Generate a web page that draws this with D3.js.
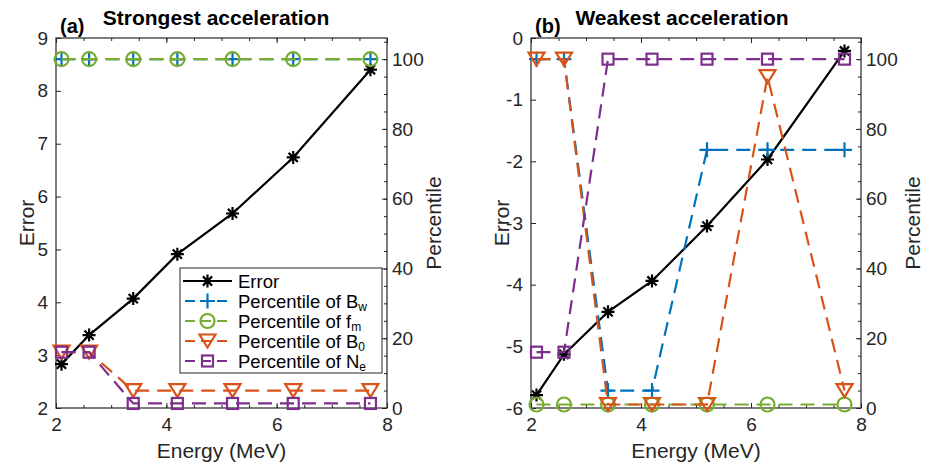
<!DOCTYPE html>
<html><head><meta charset="utf-8">
<script src="https://cdn.jsdelivr.net/npm/d3@7"></script>
<style>body{margin:0;background:#fff} svg{display:block;font-family:"Liberation Sans",Arial,sans-serif}</style>
</head><body><svg id="c" width="929" height="468"></svg>
<script>
// ---- data ----
const energy = [2.1, 2.6, 3.4, 4.2, 5.2, 6.3, 7.7];
const errorStrong = [2.83, 3.38, 4.07, 4.91, 5.68, 6.74, 8.40];
const bwStrong = [100, 100, 100, 100, 100, 100, 100];
const fmStrong = [100, 100, 100, 100, 100, 100, 100];
const b0Strong = [16, 16, 5, 5, 5, 5, 5];
const neStrong = [16, 16, 1.3, 1.3, 1.3, 1.3, 1.3];
const errorWeak = [-5.79, -5.13, -4.44, -3.94, -3.05, -1.97, -0.21];
const bwWeak = [100, 100, 5, 5, 74, 74, 74];
const fmWeak = [1, 1, 1, 1, 1, 1, 1];
const b0Weak = [100, 100, 1, 1, 1, 95, 5];
const neWeak = [16, 16, 100, 100, 100, 100, 100];
const xTicks = [2, 4, 6, 8];
const yTicksStrong = [2, 3, 4, 5, 6, 7, 8, 9];
const yTicksWeak = [-6, -5, -4, -3, -2, -1, 0];
const pctTicks = [0, 20, 40, 60, 80, 100];
const titles = ["Strongest acceleration", "Weakest acceleration"];
const panelTags = ["(a)", "(b)"];
const legendMain = ["Error", "Percentile of B", "Percentile of f", "Percentile of B", "Percentile of N"];
const legendSub = ["", "w", "m", "0", "e"];

// ---- styles ----
const C = {err: "#000000", bw: "#0072BD", fm: "#77AC30", b0: "#D95319", ne: "#7E2F8E"};
const AX = "#262626";
const DASH = "14,8";
const svg = d3.select("#c");

function marker(g, type, cx, cy, color) {
  const s = g.append("g").attr("transform", `translate(${cx},${cy})`)
    .attr("fill", "none").attr("stroke", color).attr("stroke-width", 2.2);
  if (type === "star") s.append("path").attr("d", "M-6.5,0H6.5M0,-6.5V6.5M-4.6,-4.6L4.6,4.6M-4.6,4.6L4.6,-4.6");
  else if (type === "plus") s.append("path").attr("d", "M-7.5,0H7.5M0,-7.5V7.5");
  else if (type === "circle") s.append("circle").attr("r", 7);
  else if (type === "tri") s.append("path").attr("d", "M-8,-6.5L8,-6.5L0,6.5Z");
  else if (type === "square") s.append("rect").attr("x", -5.5).attr("y", -5.5).attr("width", 11).attr("height", 11);
}

function panel(opt) {
  const {x0, x1, yDom, yTicks, err, bw, fm, b0, ne, title, tag, titleX, yLabX, pLabX, legend} = opt;
  const y0 = 38, y1 = 408;
  const x = d3.scaleLinear([2, 8], [x0, x1]);
  const yL = d3.scaleLinear(yDom, [y1, y0]);
  const yR = d3.scaleLinear([0, 106.06], [y1, y0]);
  const g = svg.append("g");
  const fmt = d => String(d);
  const styleAxis = a => {
    a.select(".domain").remove();
    a.selectAll("line").attr("stroke", AX);
    a.selectAll("text").attr("fill", AX).attr("font-size", 19).attr("font-family", "Liberation Sans, Arial, sans-serif");
  };
  const minorX = d3.range(2, 8.01, 0.5);
  const minorR = d3.range(0, 106, 5);
  // bottom
  g.append("g").attr("transform", `translate(0,${y1})`)
    .call(d3.axisBottom(x).tickValues(minorX).tickFormat("").tickSizeInner(-3).tickSizeOuter(0)).call(styleAxis);
  g.append("g").attr("transform", `translate(0,${y1})`)
    .call(d3.axisBottom(x).tickValues(xTicks).tickFormat(fmt).tickSizeInner(-5).tickSizeOuter(0).tickPadding(10)).call(styleAxis);
  // top
  g.append("g").attr("transform", `translate(0,${y0})`)
    .call(d3.axisTop(x).tickValues(minorX).tickFormat("").tickSizeInner(-3).tickSizeOuter(0)).call(styleAxis);
  g.append("g").attr("transform", `translate(0,${y0})`)
    .call(d3.axisTop(x).tickValues(xTicks).tickFormat("").tickSizeInner(-5).tickSizeOuter(0)).call(styleAxis);
  // left
  g.append("g").attr("transform", `translate(${x0},0)`)
    .call(d3.axisLeft(yL).tickValues(yTicks).tickFormat(fmt).tickSizeInner(-5).tickSizeOuter(0).tickPadding(8)).call(styleAxis);
  // right
  g.append("g").attr("transform", `translate(${x1},0)`)
    .call(d3.axisRight(yR).tickValues(minorR).tickFormat("").tickSizeInner(-3).tickSizeOuter(0)).call(styleAxis);
  g.append("g").attr("transform", `translate(${x1},0)`)
    .call(d3.axisRight(yR).tickValues(pctTicks).tickFormat(fmt).tickSizeInner(-5).tickSizeOuter(0).tickPadding(5)).call(styleAxis);
  // box
  g.append("rect").attr("x", x0).attr("y", y0).attr("width", x1 - x0).attr("height", y1 - y0)
    .attr("fill", "none").attr("stroke", AX).attr("stroke-width", 1.2);

  // series
  const lineL = d3.line().x((d, i) => x(energy[i])).y(d => yL(d));
  const lineR = d3.line().x((d, i) => x(energy[i])).y(d => yR(d));
  g.append("path").attr("d", lineL(err)).attr("fill", "none").attr("stroke", C.err).attr("stroke-width", 2.2);
  err.forEach((v, i) => marker(g, "star", x(energy[i]), yL(v), C.err));
  const rs = [[bw, C.bw, "plus"], [fm, C.fm, "circle"], [b0, C.b0, "tri"], [ne, C.ne, "square"]];
  rs.forEach(([arr, col, m]) => {
    g.append("path").attr("d", lineR(arr)).attr("fill", "none").attr("stroke", col)
      .attr("stroke-width", 2.2).attr("stroke-dasharray", DASH);
    arr.forEach((v, i) => marker(g, m, x(energy[i]), yR(v), col));
  });

  // texts
  g.append("text").attr("x", titleX).attr("y", 25).attr("text-anchor", "middle")
    .attr("font-size", 21).attr("font-weight", "bold").attr("fill", "#000").text(title);
  g.append("text").attr("x", x0 + 4).attr("y", 33).attr("font-size", 20).attr("font-weight", "bold").attr("fill", "#000").text(tag);
  g.append("text").attr("x", (x0 + x1) / 2).attr("y", 458).attr("text-anchor", "middle")
    .attr("font-size", 21).attr("fill", AX).text("Energy (MeV)");
  g.append("text").attr("transform", `translate(${yLabX},${(y0 + y1) / 2}) rotate(-90)`).attr("text-anchor", "middle")
    .attr("font-size", 21).attr("fill", AX).text("Error");
  g.append("text").attr("transform", `translate(${pLabX},${(y0 + y1) / 2}) rotate(-90)`).attr("text-anchor", "middle")
    .attr("font-size", 21).attr("fill", AX).text("Percentile");

  if (legend) {
    const lg = g.append("g");
    lg.append("rect").attr("x", 180).attr("y", 268).attr("width", 202).attr("height", 105)
      .attr("fill", "#fff").attr("stroke", AX).attr("stroke-width", 1);
    const items = [[C.err, "star", false], [C.bw, "plus", true], [C.fm, "circle", true], [C.b0, "tri", true], [C.ne, "square", true]];
    items.forEach(([col, m, dash], i) => {
      const yy = 281 + i * 20;
      const ln = lg.append("line").attr("x1", 183).attr("x2", 232).attr("y1", yy).attr("y2", yy)
        .attr("stroke", col).attr("stroke-width", 2.2);
      if (dash) ln.attr("stroke-dasharray", "10,6").attr("stroke-dashoffset", -2);
      marker(lg, m, 207.5, yy, col);
      const t = lg.append("text").attr("x", 238).attr("y", yy + 6.5).attr("font-size", 18.5).attr("fill", "#000");
      t.append("tspan").text(legendMain[i]);
      if (legendSub[i]) t.append("tspan").attr("font-size", 12).attr("dy", 3).text(legendSub[i]);
    });
  }
}

panel({x0: 56, x1: 387, yDom: [2, 9], yTicks: yTicksStrong, err: errorStrong, bw: bwStrong, fm: fmStrong,
  b0: b0Strong, ne: neStrong, title: titles[0], tag: panelTags[0], titleX: 216, yLabX: 34, pLabX: 441, legend: true});
panel({x0: 531, x1: 861, yDom: [-6, 0], yTicks: yTicksWeak, err: errorWeak, bw: bwWeak, fm: fmWeak,
  b0: b0Weak, ne: neWeak, title: titles[1], tag: panelTags[1], titleX: 682, yLabX: 509, pLabX: 920, legend: false});
</script></body></html>
